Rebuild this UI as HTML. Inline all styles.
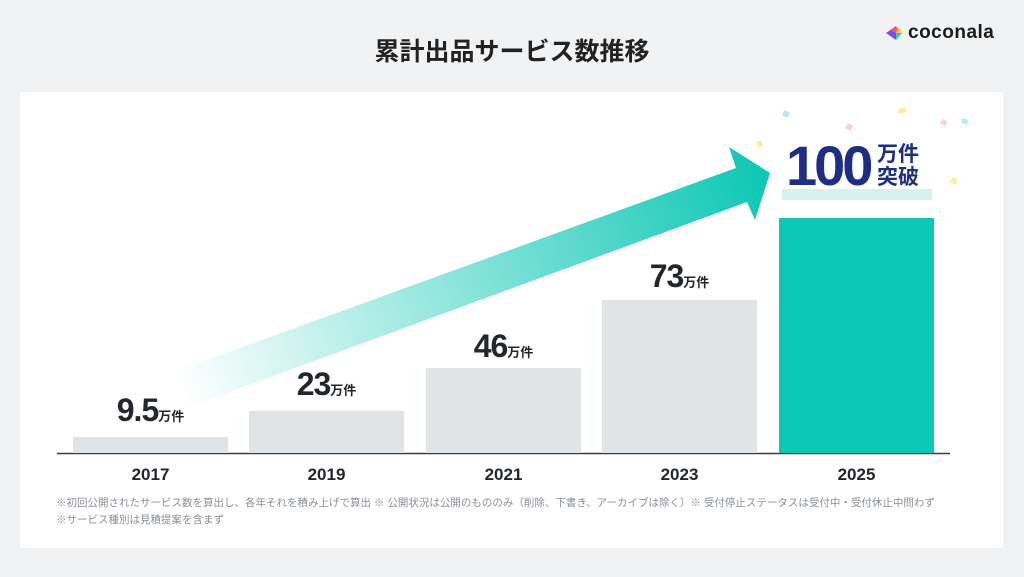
<!DOCTYPE html>
<html><head><meta charset="utf-8"><style>
body{margin:0;width:1024px;height:577px;background:#f1f2f4;font-family:"Liberation Sans","Noto Sans CJK JP",sans-serif;position:relative;overflow:hidden}
.a{position:absolute}
.t{left:0;width:1024px;top:32px;text-align:center;font-size:25px;font-weight:bold;color:#222}
.card{left:20px;top:92px;width:983px;height:456px;background:#fff}
.bar{position:absolute;background:#e1e4e7;width:155px}
.lab{position:absolute;font-weight:bold;color:#23272b;font-size:32px;text-align:center;width:155px;letter-spacing:-1px}
.lab span{font-size:13px;letter-spacing:0}
.yr{position:absolute;top:465px;width:155px;text-align:center;font-size:17px;font-weight:bold;color:#23272b}
.note{left:56px;font-size:10.5px;color:#8a9096;white-space:nowrap}
</style></head><body>
<div class="a t">累計出品サービス数推移</div>
<div class="a" style="left:884px;top:22px;display:flex;align-items:center;gap:4px">
<svg width="20" height="18" viewBox="0 0 20 18"><polygon points="2,9 12,2 12,16" fill="#7a4cf0"/><polygon points="12,2 18,9 12,9" fill="#ff7a3d"/><polygon points="12,9 18,9 12,16" fill="#2ec4e8"/><polygon points="6,6 12,2 12,9" fill="#ff4d8a"/><polygon points="12,9 18,9 16,4" fill="#ffd23f"/></svg>
<span style="font-size:19px;color:#1c1c1c;font-weight:bold;letter-spacing:0.5px">coconala</span></div>
<div class="a card"></div>
<svg class="a" style="left:0;top:0" width="1024" height="577">
<defs><linearGradient id="g" x1="180" y1="390" x2="770" y2="175" gradientUnits="userSpaceOnUse"><stop offset="0" stop-color="#0bc7b4" stop-opacity="0"/><stop offset="1" stop-color="#0bc7b4"/></linearGradient></defs>
<polygon points="171,373 736,168 729,147 770,173 755,220 747,202 189,407" fill="url(#g)"/>
<g fill-opacity="0.6"><rect x="783" y="111" width="6" height="6" fill="#8fd8f5" transform="rotate(20 786 114)"/><rect x="898" y="108" width="8" height="5" fill="#ffe45c" transform="rotate(-20 902 110)"/><rect x="846" y="124" width="6" height="6" fill="#ffaad8" transform="rotate(30 849 127)"/><rect x="941" y="120" width="6" height="5" fill="#ffaad8" transform="rotate(30 944 122)"/><rect x="962" y="119" width="6" height="5" fill="#8fd8f5" transform="rotate(30 965 121)"/><rect x="951" y="178" width="6" height="6" fill="#ffe45c" transform="rotate(20 954 181)"/><rect x="757" y="141" width="5" height="6" fill="#ffe45c"/></g>
<line x1="57" y1="453.5" x2="950" y2="453.5" stroke="#3a3f44" stroke-width="1.5"/>
</svg>
<div class="bar" style="left:73px;top:437px;height:16px"></div>
<div class="bar" style="left:249px;top:411px;height:42px"></div>
<div class="bar" style="left:426px;top:368px;height:85px"></div>
<div class="bar" style="left:602px;top:300px;height:153px"></div>
<div class="bar" style="left:779px;top:218px;height:235px;background:#0bc7b4"></div>
<div class="a" style="left:782px;top:189px;width:150px;height:11px;background:#d6f1ee"></div>
<div class="a" style="left:786px;top:136px;font-size:56px;font-weight:bold;color:#1e2e84;letter-spacing:-3px;line-height:60px">100</div>
<div class="a" style="left:877px;top:143px;font-size:21px;font-weight:bold;color:#1e2e84;line-height:23px">万件<br>突破</div>
<div class="lab" style="left:73px;top:392px">9.5<span>万件</span></div>
<div class="lab" style="left:249px;top:366px">23<span>万件</span></div>
<div class="lab" style="left:426px;top:328px">46<span>万件</span></div>
<div class="lab" style="left:602px;top:258px">73<span>万件</span></div>
<div class="yr" style="left:73px">2017</div>
<div class="yr" style="left:249px">2019</div>
<div class="yr" style="left:426px">2021</div>
<div class="yr" style="left:602px">2023</div>
<div class="yr" style="left:779px">2025</div>
<div class="a note" style="top:495px">※初回公開されたサービス数を算出し、各年それを積み上げで算出 ※ 公開状況は公開のもののみ（削除、下書き、アーカイブは除く）※ 受付停止ステータスは受付中・受付休止中問わず</div>
<div class="a note" style="top:512px">※サービス種別は見積提案を含まず</div>
</body></html>
